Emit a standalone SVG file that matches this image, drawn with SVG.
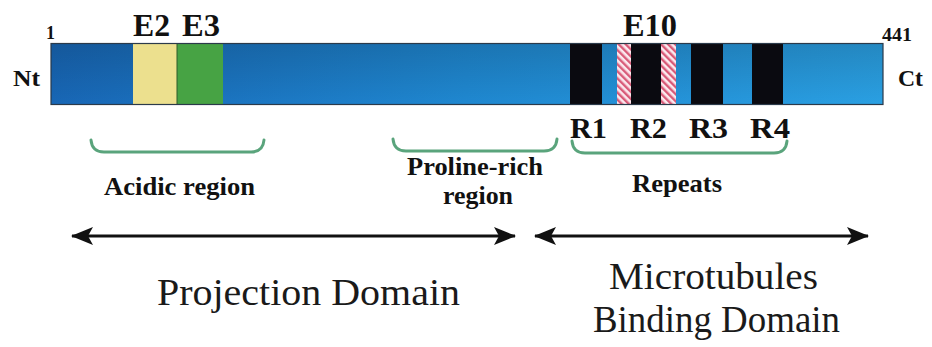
<svg xmlns="http://www.w3.org/2000/svg" width="932" height="347" viewBox="0 0 932 347">
  <style>
    text { font-family: 'Liberation Serif', 'Times New Roman', Tinos, 'Nimbus Roman', Times, serif; }
    .lbl { font-weight: bold; fill: #111; }
    .big { font-weight: normal; fill: #1a1a1a; font-size: 37px; }
    .brace { fill: none; stroke: #5aa47c; stroke-width: 3; stroke-linecap: round; }
    .axis { stroke: #111; stroke-width: 3.2; fill: none; }
    .rep { fill: #0a0a10; }
  </style>
  <defs>
    <linearGradient id="barH" x1="0" y1="0" x2="1" y2="0">
      <stop offset="0" stop-color="#1867b6"/>
      <stop offset="0.5" stop-color="#1f88d1"/>
      <stop offset="1" stop-color="#2aa0e3"/>
    </linearGradient>
    <linearGradient id="barV" x1="0" y1="0" x2="0" y2="1">
      <stop offset="0" stop-color="#000" stop-opacity="0.15"/>
      <stop offset="1" stop-color="#000" stop-opacity="0"/>
    </linearGradient>
    <pattern id="hatch" patternUnits="userSpaceOnUse" width="5" height="5" patternTransform="rotate(-45)">
      <rect width="5" height="5" fill="#fbe9ee"/>
      <rect width="2.4" height="5" fill="#d85a78"/>
    </pattern>
    <marker id="head" viewBox="0 0 22 18" refX="21" refY="9" markerWidth="22" markerHeight="18" markerUnits="userSpaceOnUse" orient="auto-start-reverse">
      <path d="M0,0 L22,9 L0,18 L5,9 Z" fill="#111"/>
    </marker>
  </defs>

  <rect width="932" height="347" fill="#ffffff"/>

  <!-- protein bar with exon / repeat segments -->
  <g id="protein">
    <rect x="51" y="43.5" width="832" height="61" fill="url(#barH)"/>
    <rect x="51" y="43.5" width="832" height="61" fill="url(#barV)"/>
    <rect x="133" y="43.5" width="44" height="61" fill="#ece08e"/>
    <rect x="177" y="43.5" width="46" height="61" fill="#47a344"/>
    <line x1="177" y1="43.5" x2="177" y2="104.5" stroke="#2f5a2a" stroke-width="1"/>
    <rect class="rep" x="570" y="43.5" width="32" height="61"/>
    <rect x="617" y="43.5" width="14" height="61" fill="url(#hatch)"/>
    <rect class="rep" x="631" y="43.5" width="30" height="61"/>
    <rect x="661" y="43.5" width="15" height="61" fill="url(#hatch)"/>
    <rect class="rep" x="691" y="43.5" width="32" height="61"/>
    <rect class="rep" x="752" y="43.5" width="31" height="61"/>
    <rect x="51" y="43.5" width="832" height="61" fill="none" stroke="#2b3a4a" stroke-width="1.2"/>
  </g>

  <!-- residue numbers and terminus labels -->
  <g id="ends">
    <text class="lbl" x="46" y="39" font-size="18">1</text>
    <text class="lbl" x="882" y="41" font-size="18" textLength="30" lengthAdjust="spacingAndGlyphs">441</text>
    <text class="lbl" x="13" y="86" font-size="24" textLength="27" lengthAdjust="spacingAndGlyphs">Nt</text>
    <text class="lbl" x="898" y="86" font-size="24" textLength="25" lengthAdjust="spacingAndGlyphs">Ct</text>
  </g>

  <!-- exon labels -->
  <g id="exons">
    <text class="lbl" x="133" y="36" font-size="31" textLength="37" lengthAdjust="spacingAndGlyphs">E2</text>
    <text class="lbl" x="182" y="36" font-size="31" textLength="38" lengthAdjust="spacingAndGlyphs">E3</text>
    <text class="lbl" x="623" y="36" font-size="31" textLength="54" lengthAdjust="spacingAndGlyphs">E10</text>
  </g>

  <!-- repeat labels -->
  <g id="repeats">
    <text class="lbl" x="570" y="138" font-size="30" textLength="37" lengthAdjust="spacingAndGlyphs">R1</text>
    <text class="lbl" x="630" y="138" font-size="30" textLength="37" lengthAdjust="spacingAndGlyphs">R2</text>
    <text class="lbl" x="689" y="138" font-size="30" textLength="39" lengthAdjust="spacingAndGlyphs">R3</text>
    <text class="lbl" x="750" y="138" font-size="30" textLength="40" lengthAdjust="spacingAndGlyphs">R4</text>
  </g>

  <!-- region braces and names -->
  <g id="acidic">
    <path class="brace" d="M91,140 Q92,152 104,152 L251,152 Q263,152 264,140"/>
    <text class="lbl" x="104" y="195" font-size="25" textLength="151" lengthAdjust="spacingAndGlyphs">Acidic region</text>
  </g>
  <g id="proline">
    <path class="brace" d="M393,139 Q394,151 406,151 L544,151 Q556,151 557,139"/>
    <text class="lbl" x="407" y="175" font-size="25" textLength="136" lengthAdjust="spacingAndGlyphs">Proline-rich</text>
    <text class="lbl" x="443" y="204" font-size="25" textLength="70" lengthAdjust="spacingAndGlyphs">region</text>
  </g>
  <g id="repeat-region">
    <path class="brace" d="M572,141 Q573,153 585,153 L774,153 Q786,153 787,141"/>
    <text class="lbl" x="632" y="192" font-size="25" textLength="90" lengthAdjust="spacingAndGlyphs">Repeats</text>
  </g>

  <!-- domain extent arrows -->
  <g id="connectors">
    <line class="axis" x1="72" y1="236" x2="515" y2="236" marker-start="url(#head)" marker-end="url(#head)"/>
    <line class="axis" x1="535" y1="236" x2="868" y2="236" marker-start="url(#head)" marker-end="url(#head)"/>
  </g>

  <!-- domain names -->
  <g id="projection">
    <text class="big" x="157" y="305" textLength="303" lengthAdjust="spacingAndGlyphs">Projection Domain</text>
  </g>
  <g id="binding">
    <text class="big" x="609" y="289" textLength="209" lengthAdjust="spacingAndGlyphs">Microtubules</text>
    <text class="big" x="593" y="332" textLength="247" lengthAdjust="spacingAndGlyphs">Binding Domain</text>
  </g>
</svg>
